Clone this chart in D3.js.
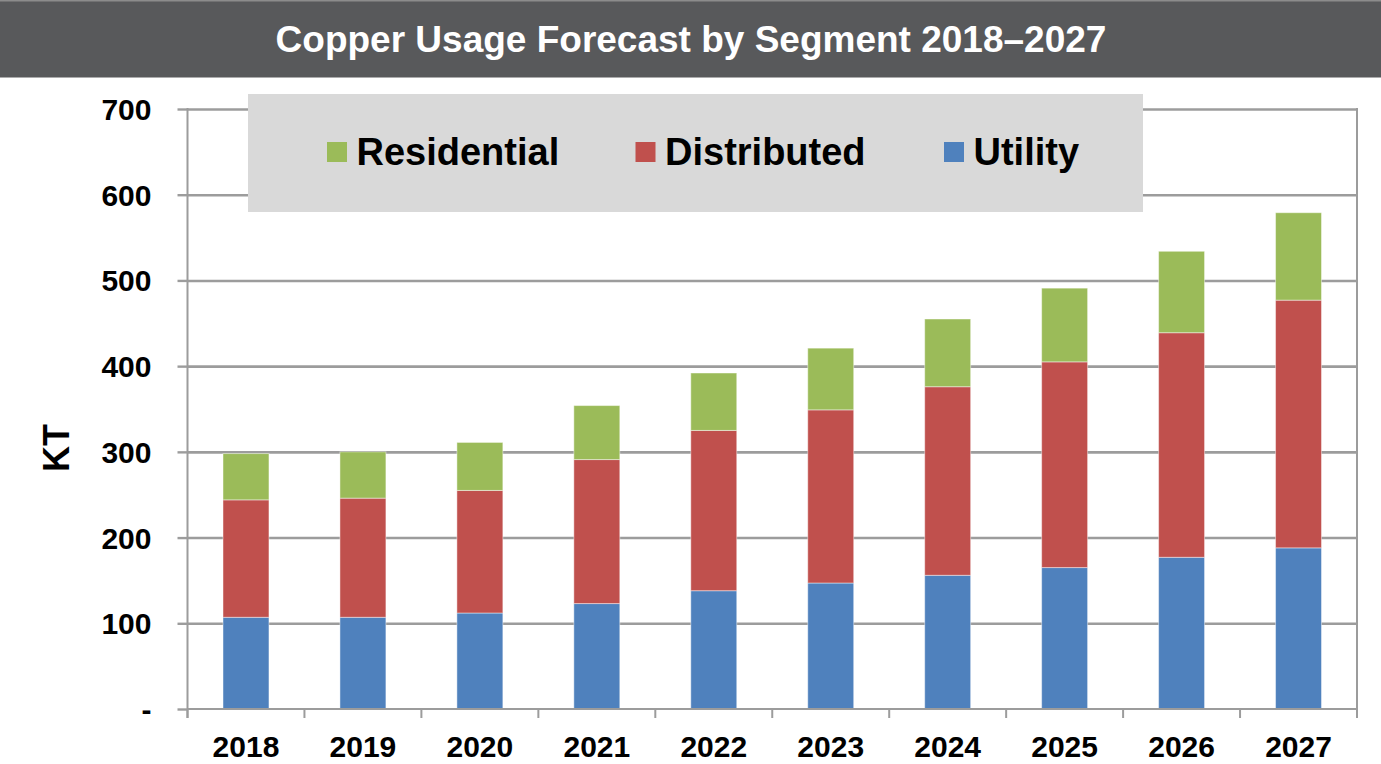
<!DOCTYPE html>
<html>
<head>
<meta charset="utf-8">
<script src="https://cdn.jsdelivr.net/npm/d3@7"></script>
<style>
  html, body { margin: 0; padding: 0; background: #ffffff; }
  svg { display: block; font-family: "Liberation Sans", Arial, sans-serif; }
</style>
</head>
<body>
<svg id="chart" width="1381" height="764"></svg>
<script>
// ---- Data ----
const years = ["2018","2019","2020","2021","2022","2023","2024","2025","2026","2027"];
const utility = [107, 107, 112, 123, 138, 147, 156, 165, 177, 188];
const distributed = [137, 139, 143, 168, 187, 202, 220, 240, 262, 289];
const residential = [54, 54, 56, 63, 67, 72, 79, 86, 95, 102];
const yTicks = [0, 100, 200, 300, 400, 500, 600, 700];
const seriesKeys = ["Utility", "Distributed", "Residential"];
const legendOrder = ["Residential", "Distributed", "Utility"];
const titleText = "Copper Usage Forecast by Segment 2018\u20132027";
const yAxisTitle = "KT";

const colors = { Utility: "#4f81bd", Distributed: "#c0504d", Residential: "#9bbb59" };

const rows = years.map((y, i) => ({ year: y, Utility: utility[i], Distributed: distributed[i], Residential: residential[i] }));

const W = 1381, H = 764;
const plot = { left: 187.5, right: 1357, top: 109, bottom: 709 };
const svg = d3.select("#chart");

// Title bar
svg.append("rect").attr("x", 0).attr("y", 0).attr("width", W).attr("height", 77.5).attr("fill", "#58595b");
svg.append("rect").attr("x", 0).attr("y", 0).attr("width", W).attr("height", 1.5).attr("fill", "#8c8c8c");
svg.append("text").attr("x", W / 2 + 0.5).attr("y", 51.5).attr("text-anchor", "middle")
  .attr("fill", "#ffffff").attr("font-weight", "bold").attr("font-size", 37).text(titleText);

// Scales
const x = d3.scaleBand().domain(years).range([plot.left, plot.right]).paddingInner(0.607).paddingOuter(0.3035);
const y = d3.scaleLinear().domain([0, 700]).range([plot.bottom, plot.top]);

// Gridlines
const grid = svg.append("g").attr("transform", `translate(${plot.left},0)`)
  .call(d3.axisLeft(y).tickValues(yTicks.filter(d => d > 0)).tickSize(-(plot.right - plot.left)).tickFormat(""));
grid.select(".domain").remove();
grid.selectAll("line").attr("stroke", "#9c9c9c").attr("stroke-width", 2.6);

// Right border line
svg.append("line").attr("x1", plot.right).attr("x2", plot.right).attr("y1", y(700) - 1).attr("y2", plot.bottom)
  .attr("stroke", "#9c9c9c").attr("stroke-width", 2);

// Bars
const stacked = d3.stack().keys(seriesKeys)(rows);
svg.append("g").selectAll("g").data(stacked).join("g")
  .attr("fill", d => colors[d.key])
  .selectAll("rect").data(d => d).join("rect")
  .attr("x", d => x(d.data.year))
  .attr("width", x.bandwidth())
  .attr("y", d => y(d[1]))
  .attr("height", d => y(d[0]) - y(d[1]))
  .attr("stroke", "#ffffff").attr("stroke-opacity", 0.45).attr("stroke-width", 1);

// Y axis
const yAxis = svg.append("g").attr("transform", `translate(${plot.left},0)`)
  .call(d3.axisLeft(y).tickValues(yTicks).tickSize(10).tickPadding(26).tickFormat(d => d === 0 ? "-" : d));
yAxis.select(".domain").attr("stroke", "#9c9c9c").attr("stroke-width", 2).attr("d", `M0,${y(700) - 1}V${plot.bottom + 9}`);
yAxis.selectAll(".tick line").attr("stroke", "#9c9c9c").attr("stroke-width", 2.4);
yAxis.selectAll(".tick text").attr("font-size", 30).attr("font-weight", "bold").attr("fill", "#000")
  .attr("font-family", "'Liberation Sans', Arial, sans-serif").attr("dy", "0.35em");

// X axis baseline
svg.append("line").attr("x1", plot.left).attr("x2", plot.right).attr("y1", plot.bottom).attr("y2", plot.bottom)
  .attr("stroke", "#9c9c9c").attr("stroke-width", 2);
// X boundary ticks
const halfGap = (x.step() - x.bandwidth()) / 2;
const bounds = years.map(d => x(d) - halfGap).concat([x(years[years.length - 1]) + x.bandwidth() + halfGap]);
svg.append("g").selectAll("line").data(bounds).join("line")
  .attr("x1", d => d).attr("x2", d => d).attr("y1", plot.bottom).attr("y2", plot.bottom + 9)
  .attr("stroke", "#9c9c9c").attr("stroke-width", 2);
// X labels
const xAxis = svg.append("g").attr("transform", `translate(0,${plot.bottom})`)
  .call(d3.axisBottom(x).tickSize(0).tickPadding(26.5));
xAxis.select(".domain").remove();
xAxis.selectAll(".tick text").attr("font-size", 30).attr("font-weight", "bold").attr("fill", "#000")
  .attr("font-family", "'Liberation Sans', Arial, sans-serif");

// Y axis title
svg.append("text").attr("transform", "translate(69,448) rotate(-90)").attr("text-anchor", "middle")
  .attr("font-size", 36).attr("font-weight", "bold").attr("fill", "#000").text(yAxisTitle);

// Legend
const lg = svg.append("g");
lg.append("rect").attr("x", 248).attr("y", 94).attr("width", 895).attr("height", 118).attr("fill", "#d9d9d9");
const items = lg.selectAll("g").data(legendOrder).join("g")
  .attr("transform", (d, i) => `translate(${327 + i * 308.5},0)`);
items.append("rect").attr("x", 0).attr("y", 142).attr("width", 20).attr("height", 20).attr("fill", d => colors[d]);
items.append("text").attr("x", 29.5).attr("y", 164.5).attr("font-size", 38).attr("font-weight", "bold")
  .attr("fill", "#000").text(d => d);
</script>
</body>
</html>
